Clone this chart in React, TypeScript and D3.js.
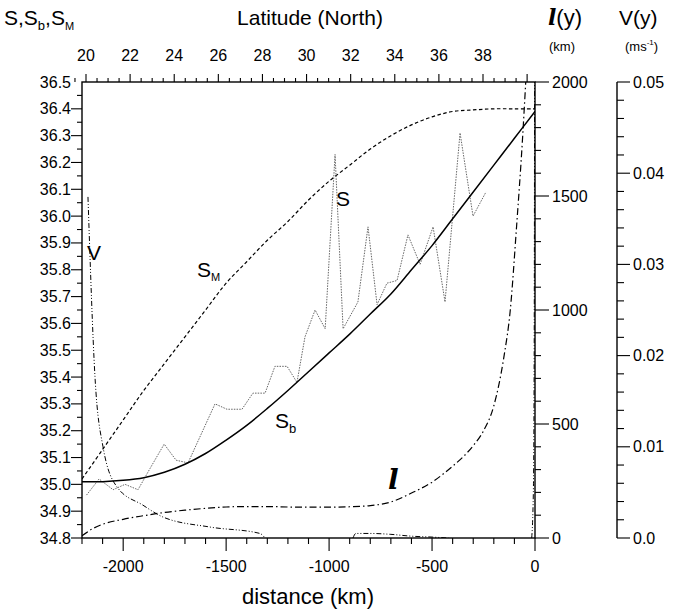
import { scaleLinear, line, curveMonotoneX, curveCatmullRom, range } from 'd3'

const width = 674
const height = 612

// distance (km), value pairs
const sbData = [
  [-2200, 35.01], [-2100, 35.01], [-2000, 35.015], [-1900, 35.025], [-1800, 35.045],
  [-1700, 35.075], [-1600, 35.115], [-1500, 35.165], [-1400, 35.22], [-1300, 35.283],
  [-1200, 35.35], [-1100, 35.42], [-1000, 35.49], [-900, 35.56], [-800, 35.635],
  [-700, 35.71], [-600, 35.8], [-500, 35.89], [-400, 35.99], [-300, 36.09],
  [-200, 36.19], [-100, 36.29], [0, 36.39],
]

const smData = [
  [-2200, 35.02], [-2100, 35.13], [-2000, 35.24], [-1900, 35.35], [-1800, 35.45],
  [-1700, 35.55], [-1600, 35.65], [-1500, 35.75], [-1400, 35.83], [-1300, 35.91],
  [-1200, 35.98], [-1100, 36.06], [-1000, 36.13], [-900, 36.19], [-800, 36.25],
  [-700, 36.3], [-600, 36.34], [-500, 36.37], [-400, 36.39], [-300, 36.396],
  [-200, 36.4], [-100, 36.4], [0, 36.4],
]

const sData = [
  [-2178, 34.96], [-2117, 35.02], [-2049, 34.98], [-1991, 35.0], [-1928, 34.98],
  [-1869, 35.06], [-1801, 35.15], [-1743, 35.09], [-1685, 35.08], [-1554, 35.3],
  [-1496, 35.28], [-1423, 35.28], [-1370, 35.34], [-1311, 35.34], [-1263, 35.44],
  [-1204, 35.44], [-1156, 35.38], [-1117, 35.55], [-1068, 35.65], [-1019, 35.58],
  [-971, 36.23], [-932, 35.58], [-860, 35.68], [-811, 35.96], [-767, 35.67],
  [-719, 35.75], [-670, 35.76], [-617, 35.93], [-558, 35.82], [-495, 35.96],
  [-437, 35.68], [-364, 36.31], [-301, 36.0], [-238, 36.09],
]

const lData = [
  [-2200, 10], [-2150, 40], [-2100, 60], [-2000, 82], [-1900, 98], [-1800, 112],
  [-1700, 122], [-1600, 130], [-1500, 136], [-1400, 138], [-1300, 138], [-1200, 136],
  [-1100, 135], [-1000, 135], [-900, 137], [-800, 142], [-700, 158], [-600, 197],
  [-500, 245], [-400, 315], [-350, 355], [-300, 405], [-250, 470], [-200, 580],
  [-150, 800], [-120, 1000], [-90, 1360], [-60, 1760], [-45, 2000],
]

const vWest = [
  [-2171, 0.0374], [-2137, 0.0177], [-2098, 0.01], [-2030, 0.0056], [-1904, 0.0036],
  [-1807, 0.0023], [-1578, 0.0012], [-1336, 0.0005], [-1311, 0.0],
]
const vMid = [
  [-884, 0.0], [-870, 0.0005], [-800, 0.0005], [-700, 0.0004], [-600, 0.0002],
  [-500, 0.0001], [-420, 0.0],
]
const vEast = [[-16, 0.0], [-8, 0.005], [-4, 0.02], [-2, 0.05]]

const distTicks = [-2000, -1500, -1000, -500, 0]
const latTicks = [20, 22, 24, 26, 28, 30, 32, 34, 36, 38]
const sTicks = range(0, 18).map((i) => +(34.8 + i * 0.1).toFixed(1))
const lTicks = [0, 500, 1000, 1500, 2000]
const vTicks = [0, 0.01, 0.02, 0.03, 0.04, 0.05]
const vTickLabels = ['0.0', '0.01', '0.02', '0.03', '0.04', '0.05']

const left = 82
const right = 535
const top = 82
const bottom = 538
const vAxisX = 617

const x = scaleLinear().domain([-2200, 0]).range([left, right])
const yS = scaleLinear().domain([34.8, 36.5]).range([bottom, top])
const yL = scaleLinear().domain([0, 2000]).range([bottom, top])
const yV = scaleLinear().domain([0, 0.05]).range([bottom, top])
const xLat = scaleLinear().domain([20, 38]).range([86, 483])

const font = 'Liberation Sans, Arial, Helvetica, sans-serif'

const App = () => {
  const sLine = line<number[]>().x((d) => x(d[0])).y((d) => yS(d[1]))
  const smooth = line<number[]>().x((d) => x(d[0])).y((d) => yS(d[1])).curve(curveCatmullRom)
  const lLine = line<number[]>().x((d) => x(d[0])).y((d) => yL(d[1])).curve(curveMonotoneX)
  const vLine = line<number[]>().x((d) => x(d[0])).y((d) => yV(d[1])).curve(curveMonotoneX)

  const distMinor = range(-2200, 1, 100)
  const latMinor = range(19.5, 40.3, 0.5)
  const sMinor = range(0, 34).map((i) => 34.8 + i * 0.05)
  const lMinor = range(0, 2001, 100)
  const vMinor = range(0, 26).map((i) => i * 0.002)

  return (
    <svg width={width} height={height} style={{ position: 'absolute', left: 0, top: 0, background: '#fff' }} fontFamily={font}>
      <defs>
        <clipPath id="plot">
          <rect x={left} y={top} width={right - left} height={bottom - top} />
        </clipPath>
      </defs>

      {/* frame */}
      <rect x={left} y={top} width={right - left} height={bottom - top} fill="none" stroke="#000" strokeWidth={1.4} />

      {/* bottom axis */}
      {distMinor.map((d) => (
        <line key={'dm' + d} x1={x(d)} x2={x(d)} y1={bottom} y2={bottom + (d % 500 === 0 ? 13 : 6)} stroke="#000" strokeWidth={1.1} />
      ))}
      {distTicks.map((d) => (
        <text key={'dt' + d} x={x(d)} y={bottom + 34} fontSize={16} textAnchor="middle">{d}</text>
      ))}
      <text x={308} y={604} fontSize={22} textAnchor="middle">distance (km)</text>

      {/* top axis, latitude */}
      {latMinor.map((l) => (
        <line key={'lm' + l} x1={xLat(l)} x2={xLat(l)} y1={top} y2={top - (Math.abs(l % 2) < 1e-6 ? 8 : 4)} stroke="#000" strokeWidth={1.1} />
      ))}
      {latTicks.map((l) => (
        <text key={'lt' + l} x={xLat(l)} y={61} fontSize={16} textAnchor="middle">{l}</text>
      ))}
      <text x={310} y={25} fontSize={21} textAnchor="middle">Latitude (North)</text>

      {/* left axis, salinity */}
      {sMinor.map((s, i) => (
        <line key={'sm' + i} x1={left} x2={left - (i % 2 === 0 ? 11 : 5)} y1={yS(s)} y2={yS(s)} stroke="#000" strokeWidth={1.1} />
      ))}
      {sTicks.map((s) => (
        <text key={'st' + s} x={71} y={yS(s) + 5.5} fontSize={16} textAnchor="end">{s.toFixed(1)}</text>
      ))}
      <text x={4} y={25} fontSize={21}>
        S,S<tspan fontSize={13} dy={5}>b</tspan><tspan dy={-5}>,S</tspan><tspan fontSize={11} dy={5}>M</tspan>
      </text>

      {/* l(y) axis */}
      {lMinor.map((v) => (
        <line key={'lym' + v} x1={right} x2={right + (v % 500 === 0 ? 14 : 6)} y1={yL(v)} y2={yL(v)} stroke="#000" strokeWidth={1.1} />
      ))}
      {lTicks.map((v) => (
        <text key={'lyt' + v} x={552} y={yL(v) + 5.5} fontSize={16}>{v}</text>
      ))}
      <text x={548} y={25} fontSize={22}>
        <tspan fontFamily="DejaVu Serif, serif" fontStyle="italic" fontWeight="bold">l</tspan>(y)
      </text>
      <text x={549} y={51} fontSize={13}>(km)</text>

      {/* V(y) axis */}
      <line x1={vAxisX} x2={vAxisX} y1={top} y2={bottom} stroke="#000" strokeWidth={1.4} />
      {vMinor.map((v, i) => (
        <line key={'vm' + i} x1={vAxisX} x2={vAxisX + (i % 5 === 0 ? 13 : 7)} y1={yV(v)} y2={yV(v)} stroke="#000" strokeWidth={1.1} />
      ))}
      {vTicks.map((v, i) => (
        <text key={'vt' + i} x={633} y={yV(v) + 5.5} fontSize={16}>{vTickLabels[i]}</text>
      ))}
      <text x={619} y={25} fontSize={21}>V(y)</text>
      <text x={625} y={51} fontSize={13}>
        (ms<tspan fontSize={8} dy={-6}>-1</tspan><tspan dy={6}>)</tspan>
      </text>

      {/* curves */}
      <g clipPath="url(#plot)" fill="none">
        <path d={smooth(smData) || ''} stroke="#000" strokeWidth={1.2} strokeDasharray="3.5,2.5" />
        <path d={sLine(sData) || ''} stroke="#666" strokeWidth={1} strokeDasharray="1.5,1.2" />
        <path d={smooth(sbData) || ''} stroke="#000" strokeWidth={1.5} />
        <path d={lLine(lData) || ''} stroke="#000" strokeWidth={1.2} strokeDasharray="7,3,1.5,3" />
        <path d={vLine(vWest) || ''} stroke="#000" strokeWidth={1} strokeDasharray="5,2,1,2,1,2" />
        <path d={vLine(vMid) || ''} stroke="#000" strokeWidth={1} strokeDasharray="5,2,1,2,1,2" />
        <path d={vLine(vEast) || ''} stroke="#000" strokeWidth={1} strokeDasharray="5,2,1,2,1,2" />
      </g>

      {/* curve labels */}
      <text x={336} y={206} fontSize={21}>S</text>
      <text x={197} y={277} fontSize={21}>S<tspan fontSize={11} dy={4}>M</tspan></text>
      <text x={275} y={428} fontSize={21}>S<tspan fontSize={13} dy={5}>b</tspan></text>
      <text x={87} y={260} fontSize={21}>V</text>
      <text x={388} y={489} fontSize={28} fontFamily="DejaVu Serif, serif" fontStyle="italic" fontWeight="bold">l</text>
    </svg>
  )
}

export default App
